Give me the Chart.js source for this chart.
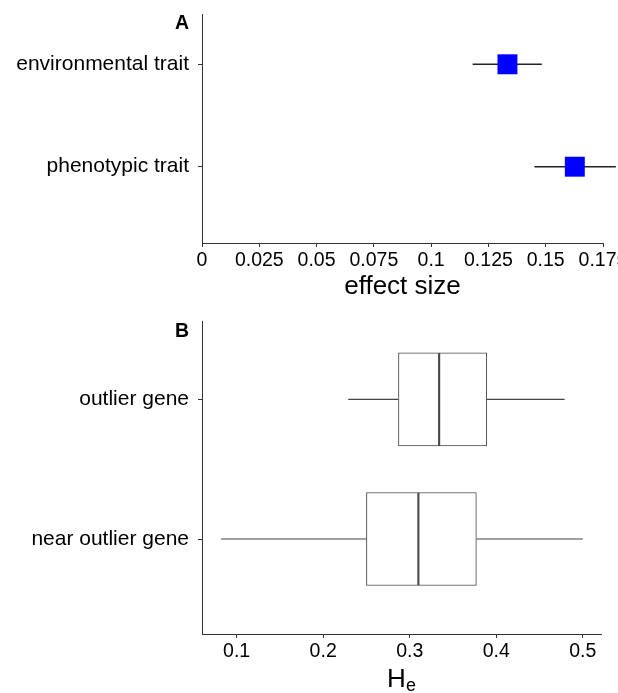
<!DOCTYPE html>
<html>
<head>
<meta charset="utf-8">
<script src="https://cdn.jsdelivr.net/npm/chart.js@4.4.1/dist/chart.umd.min.js"></script>
<style>
html,body{margin:0;padding:0;background:#fff;overflow:hidden}
canvas{display:block}
</style>
</head>
<body>
<canvas id="panelA" width="618" height="310"></canvas>
<canvas id="panelB" width="618" height="383"></canvas>
<script>
// ---------- Panel A data ----------
const traitCategories = ['environmental trait', 'phenotypic trait'];
const effectSize  = [0.1333, 0.1627];
const effectLower = [0.1181, 0.1451];
const effectUpper = [0.1483, 0.1806];
const effectTicks = [0, 0.025, 0.05, 0.075, 0.1, 0.125, 0.15, 0.175];
const effectTickLabels = ['0', '0.025', '0.05', '0.075', '0.1', '0.125', '0.15', '0.175'];

// ---------- Panel B data ----------
const geneCategories = ['outlier gene', 'near outlier gene'];
const heMin    = [0.229, 0.082];
const heQ1     = [0.287, 0.250];
const heMedian = [0.334, 0.310];
const heQ3     = [0.389, 0.377];
const heMax    = [0.479, 0.500];
const heTicks = [0.1, 0.2, 0.3, 0.4, 0.5];
const heTickLabels = ['0.1', '0.2', '0.3', '0.4', '0.5'];

const FONT = "'Liberation Sans', Arial, Helvetica, sans-serif";
Chart.defaults.font.family = FONT;
Chart.defaults.color = '#000';

function fixBox(w, h) {
  return s => {
    if (w != null) s.width = w;
    if (h != null) s.height = h;
    s.paddingLeft = 0; s.paddingRight = 0; s.paddingTop = 0; s.paddingBottom = 0;
  };
}

const panelLabel = {
  id: 'panelLabel',
  afterDraw(chart, args, opts) {
    const {ctx, chartArea} = chart;
    ctx.save();
    ctx.font = 'bold 19.5px ' + FONT;
    ctx.fillStyle = '#000';
    ctx.textAlign = 'left';
    ctx.textBaseline = 'alphabetic';
    ctx.fillText(opts.text, chartArea.left - 27, chartArea.top + opts.dy);
    ctx.restore();
  }
};

const subTitle = {
  id: 'subTitle',
  afterDraw(chart, args, opts) {
    if (!opts.main) return;
    const {ctx, chartArea} = chart;
    const xs = chart.scales.x;
    ctx.save();
    ctx.fillStyle = '#000';
    ctx.textBaseline = 'alphabetic';
    ctx.textAlign = 'left';
    ctx.font = '26px ' + FONT;
    const w1 = ctx.measureText(opts.main).width;
    ctx.font = '18px ' + FONT;
    const w2 = ctx.measureText(opts.sub).width;
    const x0 = (chartArea.left + chartArea.right) / 2 - (w1 + w2) / 2;
    const base = xs.top + 52.7;
    ctx.font = '26px ' + FONT;
    ctx.fillText(opts.main, x0, base);
    ctx.font = '18px ' + FONT;
    ctx.fillText(opts.sub, x0 + w1, base + 4.5);
    ctx.restore();
  }
};

const axisColor = '#333';

// ---------- Panel A chart ----------
const dsA = [];
traitCategories.forEach((c, i) => {
  dsA.push({
    data: [{x: effectLower[i], y: i + 1}, {x: effectUpper[i], y: i + 1}],
    showLine: true,
    borderColor: '#222',
    borderWidth: 1.5,
    pointRadius: 0,
    clip: false,
    order: 2
  });
});
dsA.push({
  data: traitCategories.map((c, i) => ({x: effectSize[i], y: i + 1})),
  pointStyle: 'rect',
  pointRadius: 14.1,
  backgroundColor: '#0000ff',
  borderWidth: 0,
  clip: false,
  order: 1
});

new Chart(document.getElementById('panelA'), {
  type: 'scatter',
  data: {datasets: dsA},
  plugins: [panelLabel],
  options: {
    responsive: false,
    animation: false,
    devicePixelRatio: 1,
    events: [],
    layout: {padding: {left: 0, top: 14, right: 15, bottom: 0}},
    plugins: {
      legend: {display: false},
      tooltip: {enabled: false},
      panelLabel: {text: 'A', dy: 14.5}
    },
    scales: {
      x: {
        type: 'linear', min: 0, max: 0.175,
        afterBuildTicks: s => { s.ticks = effectTicks.map(v => ({value: v})); },
        ticks: {callback: (v, i) => effectTickLabels[i], font: {size: 19.5}, padding: 2, maxRotation: 0, minRotation: 0, autoSkip: false, color: '#000'},
        grid: {drawOnChartArea: false, drawTicks: true, tickLength: 4, color: axisColor},
        border: {display: true, color: axisColor, width: 1},
        title: {display: true, text: 'effect size', font: {size: 26}, color: '#000', padding: {top: 0, bottom: 8}},
        afterFit: fixBox(null, 67)
      },
      y: {
        type: 'linear', reverse: true, min: 0.51, max: 2.745,
        afterBuildTicks: s => { s.ticks = traitCategories.map((c, i) => ({value: i + 1})); },
        ticks: {callback: (v, i) => traitCategories[i], font: {size: 21}, padding: 9, autoSkip: false, color: '#000'},
        grid: {drawOnChartArea: false, drawTicks: true, tickLength: 4, color: axisColor},
        border: {display: true, color: axisColor, width: 1},
        afterFit: fixBox(202, null)
      }
    }
  }
});

// ---------- Panel B chart ----------
const boxColor = '#484848';
const dsB = [
  {
    type: 'bar',
    data: geneCategories.map((c, i) => ({y: i + 1, x: [heQ1[i], heMedian[i]]})),
    backgroundColor: '#ffffff', borderColor: boxColor,
    borderWidth: {left: 1, right: 1.4, top: 1, bottom: 1},
    borderSkipped: false, barThickness: 93, grouped: false, order: 1
  },
  {
    type: 'bar',
    data: geneCategories.map((c, i) => ({y: i + 1, x: [heMedian[i], heQ3[i]]})),
    backgroundColor: '#ffffff', borderColor: boxColor,
    borderWidth: {left: 1.4, right: 1, top: 1, bottom: 1},
    borderSkipped: false, barThickness: 93, grouped: false, order: 1
  }
];
geneCategories.forEach((c, i) => {
  dsB.push({
    type: 'line',
    data: [{x: heMin[i], y: i + 1}, {x: heQ1[i], y: i + 1}],
    borderColor: '#444', borderWidth: 1.2, pointRadius: 0, fill: false, order: 2
  });
  dsB.push({
    type: 'line',
    data: [{x: heQ3[i], y: i + 1}, {x: heMax[i], y: i + 1}],
    borderColor: '#444', borderWidth: 1.2, pointRadius: 0, fill: false, order: 2
  });
});

new Chart(document.getElementById('panelB'), {
  type: 'bar',
  data: {datasets: dsB},
  plugins: [panelLabel, subTitle],
  options: {
    indexAxis: 'y',
    responsive: false,
    animation: false,
    devicePixelRatio: 1,
    events: [],
    layout: {padding: {left: 0, top: 11, right: 17, bottom: 0}},
    plugins: {
      legend: {display: false},
      tooltip: {enabled: false},
      panelLabel: {text: 'B', dy: 15.5},
      subTitle: {main: 'H', sub: 'e'}
    },
    scales: {
      x: {
        type: 'linear', min: 0.06, max: 0.521, offset: false,
        afterBuildTicks: s => { s.ticks = heTicks.map(v => ({value: v})); },
        ticks: {callback: (v, i) => heTickLabels[i], font: {size: 19.5}, padding: 2, maxRotation: 0, minRotation: 0, autoSkip: false, color: '#000'},
        grid: {drawOnChartArea: false, drawTicks: true, tickLength: 4, color: axisColor, offset: false},
        border: {display: true, color: axisColor, width: 1},
        afterFit: fixBox(null, 59)
      },
      y: {
        type: 'linear', reverse: true, min: 0.4395, max: 2.68, offset: false,
        afterBuildTicks: s => { s.ticks = geneCategories.map((c, i) => ({value: i + 1})); },
        ticks: {callback: (v, i) => geneCategories[i], font: {size: 21}, padding: 9, autoSkip: false, color: '#000'},
        grid: {drawOnChartArea: false, drawTicks: true, tickLength: 4, color: axisColor, offset: false},
        border: {display: true, color: axisColor, width: 1},
        afterFit: fixBox(202, null)
      }
    }
  }
});
</script>
</body>
</html>
